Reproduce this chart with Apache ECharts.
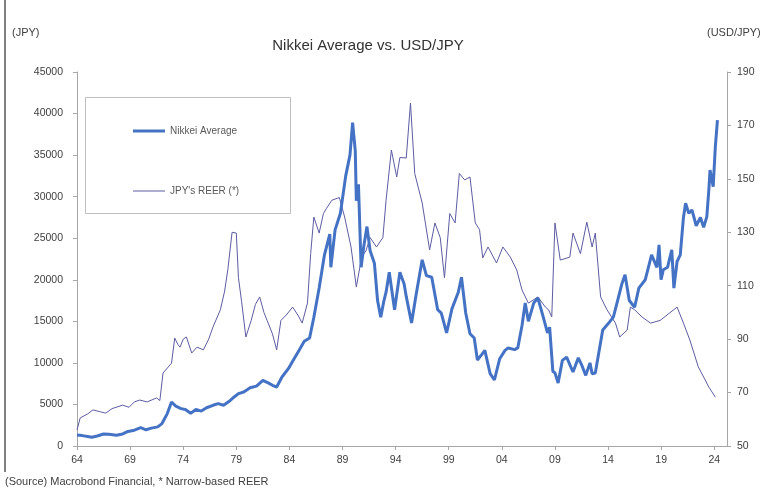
<!DOCTYPE html>
<html>
<head>
<meta charset="utf-8">
<title>Nikkei Average vs. USD/JPY</title>
<script src="https://cdn.jsdelivr.net/npm/echarts@6/dist/echarts.min.js"></script>
<style>
  html, body { margin: 0; padding: 0; background: #ffffff; }
  #chart { width: 764px; height: 493px; }
</style>
</head>
<body>
<div id="chart"></div>
<script>
// Nikkei Average (JPY), sampled points: decimal year and index level
const nikkeiDates = [
  1964.0, 1964.5, 1965.0, 1965.4, 1965.9, 1966.5, 1967.0, 1967.7, 1968.3, 1968.8,
  1969.4, 1970.0, 1970.5, 1971.0, 1971.6, 1972.0, 1972.5, 1972.9, 1973.3, 1973.8,
  1974.2, 1974.7, 1975.2, 1975.7, 1976.2, 1976.8, 1977.3, 1977.8, 1978.3, 1978.8,
  1979.2, 1979.7, 1980.3, 1980.9, 1981.5, 1982.0, 1982.4, 1982.8, 1983.3, 1983.9,
  1984.4, 1984.9, 1985.4, 1985.9, 1986.3, 1986.8, 1987.3, 1987.8, 1987.9, 1988.3,
  1988.8, 1989.3, 1989.7, 1989.95, 1990.2, 1990.3, 1990.5, 1990.75, 1991.0, 1991.3,
  1991.6, 1992.0, 1992.3, 1992.6, 1992.9, 1993.1, 1993.4, 1993.9, 1994.4, 1994.8,
  1995.0, 1995.5, 1995.9, 1996.5, 1996.9, 1997.4, 1997.96, 1998.3, 1998.8, 1999.3,
  1999.9, 2000.2, 2000.6, 2001.0, 2001.4, 2001.7, 2002.1, 2002.4, 2002.9, 2003.3,
  2003.8, 2004.3, 2004.6, 2005.2, 2005.5, 2005.9, 2006.2, 2006.5, 2007.0, 2007.4,
  2007.9, 2008.3, 2008.5, 2008.8, 2009.0, 2009.3, 2009.7, 2010.1, 2010.7, 2011.2,
  2011.5, 2011.9, 2012.3, 2012.5, 2012.8, 2013.1, 2013.5, 2014.0, 2014.5, 2014.9,
  2015.3, 2015.6, 2016.0, 2016.5, 2016.9, 2017.5, 2018.1, 2018.6, 2018.8, 2018.99,
  2019.2, 2019.6, 2020.0, 2020.2, 2020.5, 2020.8, 2021.1, 2021.3, 2021.6, 2021.9,
  2022.3, 2022.7, 2023.0, 2023.3, 2023.5, 2023.6, 2023.9, 2024.1, 2024.3
];
const nikkeiValues = [
  1320, 1250, 1150, 1050, 1200, 1450, 1400, 1300, 1450, 1750,
  1900, 2200, 1950, 2150, 2300, 2700, 3900, 5300, 4800, 4500,
  4400, 3950, 4400, 4200, 4600, 4900, 5100, 4900, 5350, 5900,
  6300, 6500, 7000, 7200, 7900, 7600, 7300, 7100, 8300, 9300,
  10400, 11500, 12600, 13000, 15500, 19000, 23000, 25500, 21500, 26000,
  28000, 32500, 35000, 38900, 35500, 29500, 31500, 21500, 24000, 26400,
  23500, 22000, 17500, 15500, 17500, 18500, 20900, 16400, 20900, 19500,
  18000, 14800, 18000, 22400, 20500, 20300, 16400, 16000, 13600, 16500,
  18500, 20300, 16000, 13500, 13000, 10350, 11000, 11500, 8700, 7940,
  10500, 11500, 11800, 11600, 11800, 14500, 17200, 15000, 17200, 17800,
  15500, 13600, 14300, 9000, 8800, 7580, 10300, 10700, 8900, 10600,
  9800, 8500, 10000, 8700, 8780, 11000, 13960, 14700, 15500, 17500,
  19500, 20600, 17500, 16700, 19000, 20000, 23000, 21500, 24200, 20000,
  21200, 21500, 23600, 19000, 22200, 23000, 27500, 29200, 28000, 28400,
  26500, 27500, 26300, 27600, 31000, 33200, 31200, 36000, 39200
];

// JPY real effective exchange rate (narrow-based), sampled points
const reerDates = [
  1964.0, 1964.3, 1965.0, 1965.5, 1966.2, 1966.7, 1967.3, 1968.3, 1968.9, 1969.4,
  1969.9, 1970.6, 1971.5, 1971.8, 1972.1, 1972.9, 1973.2, 1973.5, 1973.7, 1974.0,
  1974.3, 1974.8, 1975.3, 1975.9, 1976.4, 1976.8, 1977.5, 1977.9, 1978.2, 1978.6,
  1979.0, 1979.2, 1979.5, 1979.9, 1980.4, 1980.8, 1981.2, 1981.6, 1981.9, 1982.4,
  1982.8, 1983.2, 1983.7, 1984.3, 1984.8, 1985.2, 1985.7, 1986.0, 1986.3, 1986.8,
  1987.2, 1987.5, 1988.0, 1988.7, 1989.2, 1989.8, 1990.3, 1990.8, 1991.2, 1991.6,
  1992.2, 1992.8, 1993.1, 1993.6, 1994.1, 1994.4, 1995.0, 1995.4, 1995.8, 1996.5,
  1997.2, 1997.7, 1998.2, 1998.6, 1999.1, 1999.6, 2000.0, 2000.5, 2001.0, 2001.5,
  2001.9, 2002.2, 2002.7, 2003.5, 2004.1, 2004.8, 2005.4, 2005.9, 2006.5, 2007.4,
  2008.1, 2008.4, 2008.7, 2009.0, 2009.5, 2010.4, 2010.7, 2011.4, 2012.0, 2012.5,
  2012.8, 2013.3, 2013.9, 2014.7, 2015.1, 2015.8, 2016.1, 2016.5, 2017.2, 2018.0,
  2018.9, 2019.8, 2020.5, 2021.1, 2021.7, 2022.5, 2023.0, 2023.5, 2024.1
];
const reerValues = [
  56, 60.5, 62, 63.5, 62.8, 62.3, 64, 65.3, 64.5, 66.5,
  67.2, 66.5, 68, 67, 77.3, 81, 90.4, 88, 87, 90,
  90.8, 84.8, 87, 86, 90, 94.5, 101, 108, 116, 130,
  129.7, 113, 104, 90.8, 97, 103, 105.8, 100, 97, 92,
  86, 97, 99, 102, 99, 96, 103.5, 122, 135.7, 129.7,
  137, 139, 142, 143, 135.7, 124.5, 109.5, 120.7, 123, 128,
  124.5, 128, 142, 160.8, 150.7, 158, 157.8, 178.4, 152, 141,
  123.4, 133.5, 128, 113, 137, 133.5, 152, 149.6, 150.7, 133.5,
  131, 120.4, 124.5, 118.5, 124.5, 120.7, 115.9, 108.4, 103.5, 105.8,
  102, 101, 98.3, 133.5, 119.6, 120.7, 129.7, 122, 133.8, 124.5,
  129.7, 105.8, 101, 96, 90.8, 93.4, 102, 101, 98.3, 96,
  97, 99.8, 102, 96, 89.7, 79.6, 75.8, 72, 68.3
];

// Axis ticks
const baseYear = 1964;
const yearTicks = [1964, 1969, 1974, 1979, 1984, 1989, 1994, 1999, 2004, 2009, 2014, 2019, 2024];
const rightTicks = [50, 70, 90, 110, 130, 150, 170, 190];

const FONT = "'Liberation Sans', Arial, sans-serif";
const TEXT = '#404040';
const AXIS = '#a6a6a6';
const NIKKEI_COLOR = '#4472c4';
const REER_COLOR = '#5c5ca3';

// x is measured in years after 1964 so the 5-year ticks line up with 64, 69, 74...
const toPairs = (dates, vals) => dates.map((d, i) => [d - baseYear, vals[i]]);

const chart = echarts.init(document.getElementById('chart'), null, { renderer: 'canvas' });

chart.setOption({
  animation: false,
  backgroundColor: '#ffffff',
  textStyle: { fontFamily: FONT },
  title: {
    text: 'Nikkei Average vs. USD/JPY',
    left: 363,
    top: 33,
    textAlign: 'center',
    textStyle: { fontFamily: FONT, fontSize: 15, fontWeight: 'normal', color: '#333333' }
  },
  grid: { left: 77, right: 37, top: 72, bottom: 47, containLabel: false },
  legend: {
    orient: 'vertical',
    left: 128,
    top: 121,
    itemWidth: 32,
    itemHeight: 10,
    itemGap: 50,
    textStyle: { fontFamily: FONT, fontSize: 10, color: '#595959' },
    data: [
      { name: 'Nikkei Average', icon: 'path://M0,0 L32,0 L32,3 L0,3 Z', itemStyle: { color: NIKKEI_COLOR } },
      { name: "JPY's REER (*)", icon: 'path://M0,0 L32,0 L32,1 L0,1 Z', itemStyle: { color: REER_COLOR } }
    ]
  },
  xAxis: {
    type: 'value',
    min: 0,
    max: 61.2,
    splitLine: { show: false },
    axisLine: { lineStyle: { color: AXIS } },
    axisTick: {
      length: 4,
      lineStyle: { color: AXIS },
      customValues: yearTicks.map(y => y - baseYear)
    },
    axisLabel: {
      fontFamily: FONT, fontSize: 10.5, color: TEXT, margin: 9,
      customValues: yearTicks.map(y => y - baseYear),
      formatter: v => String((baseYear + Math.round(v)) % 100).padStart(2, '0')
    }
  },
  yAxis: [
    {
      type: 'value',
      min: 0,
      max: 45000,
      interval: 5000,
      splitLine: { show: false },
      axisLine: { show: true, lineStyle: { color: AXIS } },
      axisTick: { show: true, length: 4, lineStyle: { color: AXIS } },
      axisLabel: {
        fontFamily: FONT, fontSize: 10.5, color: TEXT, margin: 14,
        formatter: v => String(v)
      }
    },
    {
      type: 'value',
      position: 'right',
      min: 50,
      max: 190,
      splitLine: { show: false },
      axisLine: { show: true, lineStyle: { color: AXIS } },
      axisTick: { show: true, length: 4, lineStyle: { color: AXIS }, customValues: rightTicks },
      axisLabel: {
        fontFamily: FONT, fontSize: 10.5, color: TEXT, margin: 10,
        customValues: rightTicks,
        formatter: v => String(v)
      }
    }
  ],
  graphic: [
    {
      type: 'line',
      shape: { x1: 5, y1: 0, x2: 5, y2: 472 },
      style: { stroke: '#808080', lineWidth: 2 }
    },
    {
      type: 'rect',
      shape: { x: 85.5, y: 97.5, width: 205, height: 116 },
      style: { fill: '#ffffff', stroke: '#bfbfbf', lineWidth: 1 }
    },
    {
      type: 'text', left: 12, top: 27,
      style: { text: '(JPY)', font: '11px ' + FONT, fill: TEXT }
    },
    {
      type: 'text', left: 707, top: 27,
      style: { text: '(USD/JPY)', font: '11px ' + FONT, fill: TEXT }
    },
    {
      type: 'text', left: 5, top: 476,
      style: { text: '(Source) Macrobond Financial, * Narrow-based REER', font: '11px ' + FONT, fill: TEXT }
    }
  ],
  series: [
    {
      name: 'Nikkei Average',
      type: 'line',
      yAxisIndex: 0,
      symbol: 'none',
      z: 3,
      lineStyle: { color: NIKKEI_COLOR, width: 3 },
      itemStyle: { color: NIKKEI_COLOR },
      data: toPairs(nikkeiDates, nikkeiValues)
    },
    {
      name: "JPY's REER (*)",
      type: 'line',
      yAxisIndex: 1,
      symbol: 'none',
      z: 2,
      lineStyle: { color: REER_COLOR, width: 1 },
      itemStyle: { color: REER_COLOR },
      data: toPairs(reerDates, reerValues)
    }
  ]
});
</script>
</body>
</html>
